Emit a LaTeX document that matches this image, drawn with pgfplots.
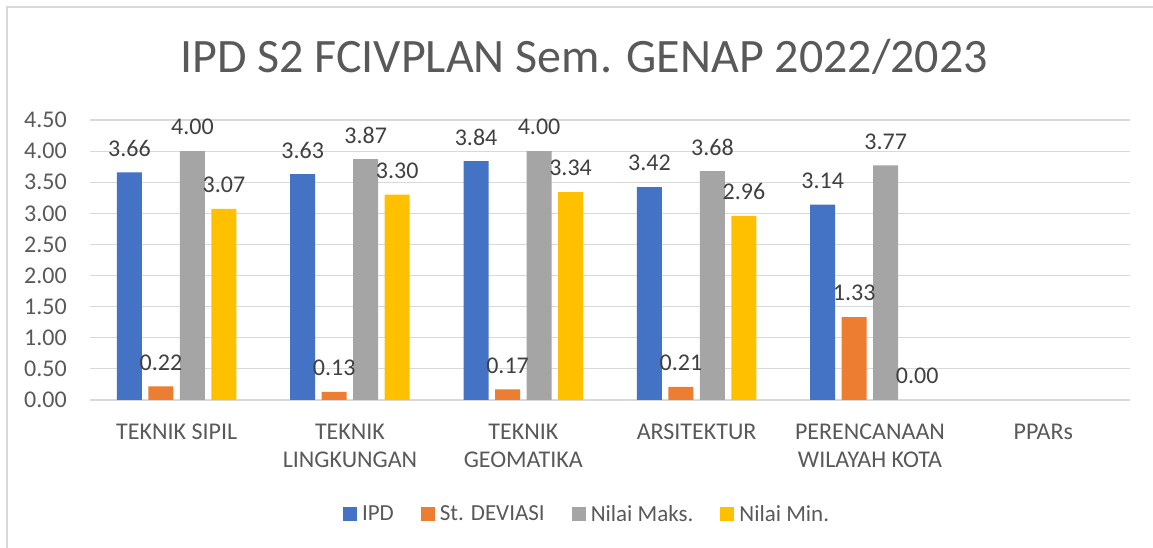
\documentclass[border=0pt]{standalone}
\usepackage{pgfplots}
\pgfplotsset{compat=1.18}
\usepackage{fontspec}
\setmainfont{Carlito}
\definecolor{cIPD}{HTML}{4472C4}
\definecolor{cSD}{HTML}{ED7D31}
\definecolor{cMax}{HTML}{A5A5A5}
\definecolor{cMin}{HTML}{FFC000}
\definecolor{txt}{HTML}{595959}
\definecolor{lbl}{HTML}{404040}
\definecolor{gridc}{HTML}{D9D9D9}
\begin{document}
\begin{tikzpicture}
\begin{axis}[
 at={(0pt,0pt)}, anchor=south west,
 scale only axis, width=1040pt, height=280pt,
 ybar, bar width=25pt,
 xmin=-0.5, xmax=5.5, ymin=0, ymax=4.5,
 xtick={0,1,2,3,4,5},
 xticklabels={TEKNIK SIPIL, TEKNIK\\LINGKUNGAN, TEKNIK\\GEOMATIKA, ARSITEKTUR, PERENCANAAN\\WILAYAH KOTA, PPARs},
 ytick={0,0.5,1,1.5,2,2.5,3,3.5,4,4.5},
 axis line style={draw=none},
 major tick length=0pt,
 ymajorgrids, grid style={gridc, line width=1.2pt},
 xticklabel style={align=center, anchor=north, inner sep=0pt, yshift=-24pt, text=txt, font=\fontsize{24}{28}\selectfont},
 yticklabel style={anchor=east, inner sep=0pt, xshift=-23pt, text=txt, font=\fontsize{24}{28}\selectfont,
   /pgf/number format/.cd, fixed, zerofill, precision=2, assume math mode=true},
 every axis plot/.append style={draw=none},
 nodes near coords={\pgfmathprintnumber[fixed,zerofill,precision=2,assume math mode=true]{\pgfplotspointmeta}},
 nodes near coords style={anchor=center, yshift=24pt, inner sep=0pt, text=lbl, font=\fontsize{24}{28}\selectfont},
 legend style={at={(0.478,-0.407)}, anchor=center, draw=none, fill=none, legend columns=4,
   font=\fontsize{23}{27}\selectfont, text=txt,
   /tikz/every odd column/.append style={column sep=3pt},
   /tikz/every even column/.append style={column sep=25pt}},
 legend cell align=left,
 legend image code/.code={\path[#1,draw=none] (0pt,-7pt) rectangle (14pt,7pt);},
]
\addplot[fill=cIPD, bar shift=-47.25pt] coordinates {(0,3.66) (1,3.63) (2,3.84) (3,3.42) (4,3.14)};
\addplot[fill=cSD, bar shift=-15.75pt] coordinates {(0,0.22) (1,0.13) (2,0.17) (3,0.21) (4,1.33)};
\addplot[fill=cMax, bar shift=15.75pt] coordinates {(0,4.00) (1,3.87) (2,4.00) (3,3.68) (4,3.77)};
\addplot[fill=cMin, bar shift=47.25pt] coordinates {(0,3.07) (1,3.30) (2,3.34) (3,2.96)};
\addplot[fill=none, bar shift=47.25pt, forget plot] coordinates {(4,0.00)};
\legend{IPD, St. DEVIASI, Nilai Maks., Nilai Min.}
\end{axis}
\begin{scope}[x=1pt,y=1pt,shift={(-90pt,-148pt)}]
\draw[gridc, line width=1.5pt] (7,0) -- (7,541) -- (1153,541);
\node[anchor=base, text=txt, font=\fontsize{48}{56}\selectfont, inner sep=0pt] at (584,475.3) {IPD S2 FCIVPLAN Sem. GENAP 2022/2023};
\pgfresetboundingbox
\useasboundingbox (0,0) rectangle (1153,548);
\end{scope}
\end{tikzpicture}
\end{document}
